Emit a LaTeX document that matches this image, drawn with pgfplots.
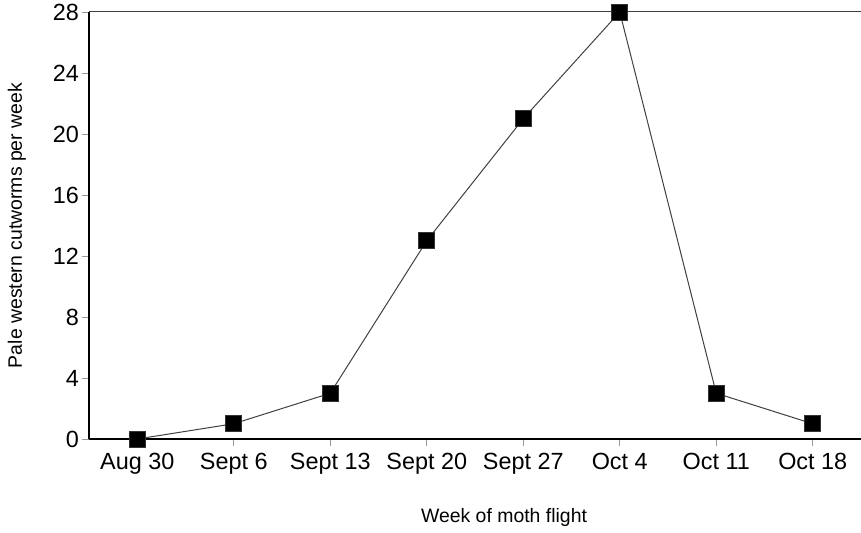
\documentclass[border=0pt]{standalone}
\usepackage{fontspec}
\setmainfont{Liberation Sans}
\usepackage{pgfplots}
\pgfplotsset{compat=1.18}

\begin{document}
\begin{tikzpicture}
\begin{axis}[
  scale only axis,
  width=772bp, height=427bp,
  xmin=-0.5, xmax=7.5,
  ymin=0, ymax=28,
  axis lines*=left,
  axis line style={line width=2.2bp, black},
  xtick={0,1,...,7},
  xticklabels={Aug 30,Sept 6,Sept 13,Sept 20,Sept 27,Oct 4,Oct 11,Oct 18},
  ytick={0,4,...,28},
  tick align=outside,
  major tick length=7bp,
  tick style={gray!80, line width=0.8bp},
  /pgf/number format/assume math mode=true,
  tick label style={font=\fontsize{23.5}{27}\selectfont},
  xticklabel style={anchor=north, inner sep=0pt, yshift=-7bp},
  yticklabel style={anchor=east, inner sep=0pt, xshift=-3bp},
  xlabel={Week of moth flight},
  ylabel={Pale western cutworms per week},
  label style={font=\fontsize{19.5}{23}\selectfont},
  xlabel style={at={(axis description cs:0.5376,-0.1827)}, anchor=center},
  ylabel style={at={(axis description cs:-0.0933,0.5)}, anchor=center, rotate=0},
  clip=false,
]
\coordinate (bl) at (rel axis cs:0,0);
\draw[black!75, line width=1bp] (rel axis cs:0,1) -- (rel axis cs:1,1);
\addplot[black!75, line width=1bp, mark=square*, mark size=8bp,
  mark options={fill=black, draw=black!80, line width=0.6bp}]
  coordinates {
    (0,0) (1,1) (2,3) (3,13) (4,21) (5,28) (6,3) (7,1)
  };
\end{axis}
\pgfresetboundingbox
\path (bl) ++(-89bp,-94bp) rectangle ++(861bp,533bp);
\end{tikzpicture}
\end{document}
